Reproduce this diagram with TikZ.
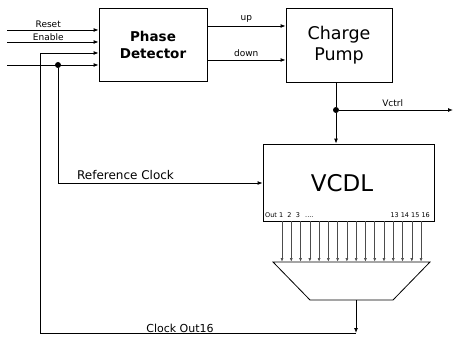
\documentclass[tikz,border=0pt]{standalone}
\usepackage{fontspec}
\setmainfont{DejaVu Sans}
\usetikzlibrary{arrows.meta}
\begin{document}
\begin{tikzpicture}[x=1pt,y=-1pt,
  blk/.style={draw,thick,minimum width=108pt,minimum height=73pt,inner sep=0pt},
  wire/.style={line width=0.9pt},
  arr/.style={wire,-{Latex[length=5pt,width=4pt]}},
  tap/.style={line width=0.5pt,draw=black!70,-{Latex[length=3.5pt,width=3pt]}},
  lbl/.style={font=\fontsize{9}{10}\selectfont,inner sep=0pt},
  dot/.style={circle,fill,inner sep=0pt,minimum size=6pt}]
\useasboundingbox (0,0) rectangle (454,339);
% blocks
\node[blk,align=center,font=\fontsize{13.5}{17}\selectfont\bfseries] (pd) at (153,44.5) {Phase\\Detector};
\node[blk,minimum width=106pt,minimum height=74pt,align=center,font=\fontsize{17.5}{21}\selectfont] (cp) at (339,45) {Charge\\Pump};
\node[draw,thick,minimum width=171pt,minimum height=77pt,inner sep=0pt] (vcdl) at (348.5,182.5) {};
\node[font=\fontsize{23}{26}\selectfont] (vt) at (342,183) {VCDL};
\node[font=\fontsize{6.5}{7}\selectfont,anchor=west,inner sep=0pt] (ol) at (265,215) {Out 1\,\, 2\,\, 3\,\,\, ....};
\node[font=\fontsize{6.5}{7}\selectfont,anchor=east,inner sep=0pt] (or) at (430,215) {13 14 15 16};
% mux
\coordinate (m1) at (273,262);
\coordinate (m2) at (430,262);
\coordinate (m3) at (393,300);
\coordinate (m4) at (310,300);
\draw[thick] (m1) -- (m2) -- (m3) -- (m4) -- cycle;
\coordinate (mo) at (356,300);
% taps
\foreach \i in {0,...,15}{
  \draw[tap] ({282+\i*9.27},221) -- ({282+\i*9.27},261.5);
}
% inputs
\coordinate (rs) at (7,30);
\coordinate (en) at (7,42);
\coordinate (rc) at (7,65);
\draw[arr] (rs) -- (rs -| pd.west) node[lbl,pos=0.45,above=1.5pt] (rsl) {Reset};
\draw[arr] (en) -- (en -| pd.west) node[lbl,pos=0.45,above=1pt] (enl) {Enable};
\draw[arr] (rc) -- (rc -| pd.west);
\node[dot] (d1) at (58,65) {};
\coordinate (rcv) at (58,183);
\draw[arr] (d1) -- (rcv) -- (rcv -| vcdl.west) node[pos=0.33,above=3pt,font=\fontsize{12}{13}\selectfont,inner sep=0pt] (rcl) {Reference Clock};
% up/down
\coordinate (up) at (207,26);
\coordinate (dn) at (207,60);
\draw[arr] (up) -- (up -| cp.west) node[lbl,pos=0.5,above=3pt] (upl) {up};
\draw[arr] (dn) -- (dn -| cp.west) node[lbl,pos=0.5,above=3pt] (dnl) {down};
% vctrl
\node[dot] (d2) at (336,110) {};
\coordinate (vc) at (453,110);
\draw[wire] (cp.south -| d2) -- (d2);
\draw[arr] (d2) -- (vcdl.north -| d2);
\draw[arr] (d2) -- (vc) node[lbl,pos=0.47,above=3pt] (vcl) {Vctrl};
% feedback
\coordinate (fb1) at (356,333);
\coordinate (fb2) at (40,333);
\coordinate (fb3) at (40,53);
\draw[arr] (mo) -- (fb1);
\draw[arr] (fb1) -- (fb2) -- (fb3) -- (fb3 -| pd.west);
\node[font=\fontsize{11}{12}\selectfont,inner sep=0pt] (col) at (180,328) {Clock Out16};
\end{tikzpicture}
\end{document}
